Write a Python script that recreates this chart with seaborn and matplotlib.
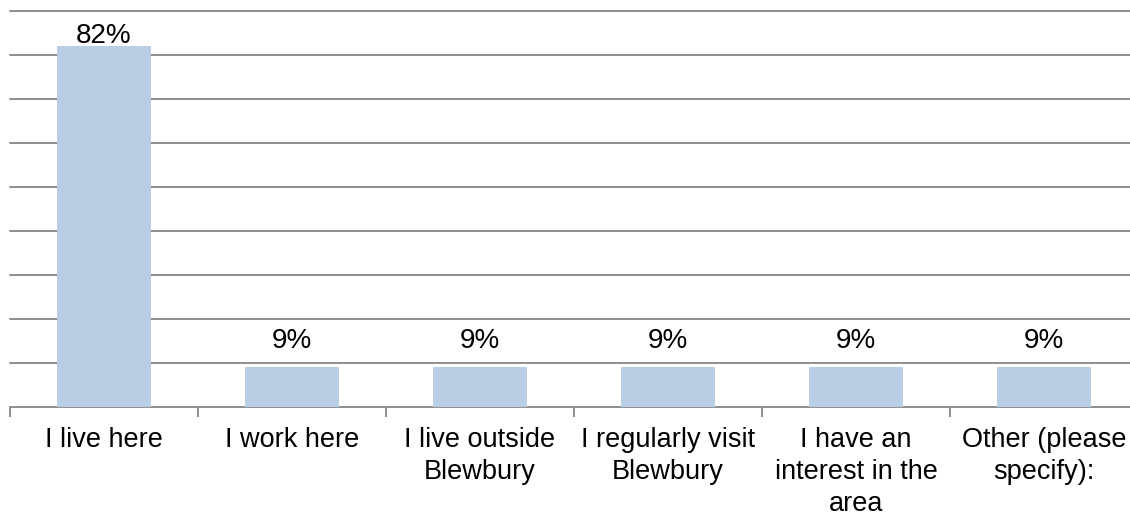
import matplotlib
matplotlib.use("Agg")
import matplotlib.pyplot as plt
import seaborn as sns
import pandas as pd

categories = ["I live here", "I work here", "I live outside\nBlewbury",
              "I regularly visit\nBlewbury", "I have an\ninterest in the\narea",
              "Other (please\nspecify):"]
percent = [82, 9, 9, 9, 9, 9]

df = pd.DataFrame({"category": categories, "percent": percent})

sns.set_theme(style="white")
plt.rcParams['font.family'] = ['Liberation Sans', 'DejaVu Sans']

fig = plt.figure(figsize=(11.3, 5.16), dpi=100)
ax = fig.add_axes([10 / 1130, 109 / 516, 1128 / 1130, 396 / 516])

sns.barplot(data=df, x="category", y="percent", color="#B9CDE5",
            saturation=1, width=0.5, linewidth=0, ax=ax, zorder=3)

ax.set_ylim(0, 90)
ax.set_xlim(-0.5, len(categories) - 0.5)
ax.set_yticks(range(10, 91, 10))
ax.set_yticklabels([])
ax.tick_params(axis='y', length=0)
ax.yaxis.grid(True, color="#868686", linewidth=1.3)
for gl in ax.get_ygridlines():
    gl.set_clip_on(False)
ax.set_axisbelow(True)

# tick marks between categories
ax.set_xticks([i - 0.5 for i in range(len(categories) + 1)])
ax.set_xticklabels([])
ax.tick_params(axis='x', bottom=True, length=7, width=1.3,
               color="#868686", direction="out")
for i, lab in enumerate(categories):
    ax.text(i, -4.5, lab, ha="center", va="top", fontsize=19.5,
            linespacing=1.3, color="black")

for sp in ["left", "right", "top"]:
    ax.spines[sp].set_visible(False)
ax.spines["bottom"].set_color("#868686")
ax.spines["bottom"].set_linewidth(1.3)

# data labels sit above the bar, but are kept inside the plot area
for p, v in zip(ax.patches, percent):
    y = min(p.get_height() + 4.3, 82.8)
    ax.text(p.get_x() + p.get_width() / 2, y, f"{v}%",
            ha="center", va="baseline", fontsize=20, color="black")

ax.set_xlabel("")
ax.set_ylabel("")
fig.savefig("out.png", dpi=100)
